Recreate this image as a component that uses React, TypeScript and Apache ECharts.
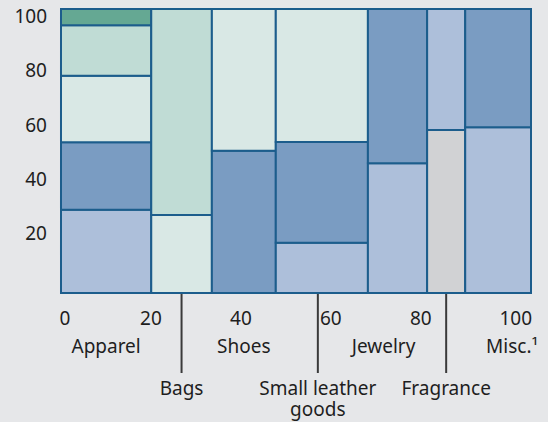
import React, { useEffect, useRef } from 'react';
import * as echarts from 'echarts';

// ---- data ----
const categories = ['Apparel', 'Bags', 'Shoes', 'Small leather\ngoods', 'Jewelry', 'Fragrance', 'Misc.¹'];
const columnWidths = [19.2, 12.9, 13.6, 19.6, 12.6, 8.1, 14.0];
// segment heights per column, bottom to top (percent)
const apparelSegments = [29.3, 23.8, 23.4, 17.8, 5.7];
const bagsSegments = [27.5, 72.5];
const shoesSegments = [50.1, 49.9];
const smallLeatherSegments = [17.7, 35.5, 46.8];
const jewelrySegments = [45.7, 54.3];
const fragranceSegments = [57.4, 42.6];
const miscSegments = [58.4, 41.6];
const segmentValues = [apparelSegments, bagsSegments, shoesSegments, smallLeatherSegments, jewelrySegments, fragranceSegments, miscSegments];
// shade key per segment
const segmentShades = [
  ['lightBlue', 'midBlue', 'paleMint', 'mint', 'green'],
  ['paleMint', 'mint'],
  ['midBlue', 'paleMint'],
  ['lightBlue', 'midBlue', 'paleMint'],
  ['lightBlue', 'midBlue'],
  ['gray', 'lightBlue'],
  ['lightBlue', 'midBlue'],
];
const xTickLabels = [0, 20, 40, 60, 80, 100];
const yTickLabels = [20, 40, 60, 80, 100];

// ---- layout / style ----
const labelRow = [0, 1, 0, 1, 0, 1, 0];
const labelNudge = [0, 0, 0, -4, -14, 0, 14];
const palette: Record<string, string> = {
  lightBlue: '#adbfda',
  midBlue: '#7a9cc2',
  paleMint: '#d9e8e5',
  mint: '#c0dcd5',
  green: '#65a893',
  gray: '#d1d2d4',
};
const FONT = '"Noto Sans", sans-serif';
const TEXT = '#1e1e1e';
const BORDER = '#1c5d8c';

export default function App() {
  const ref = useRef<HTMLDivElement>(null);
  useEffect(() => {
    if (!ref.current) return;
    const chart = echarts.init(ref.current, null, { renderer: 'svg' });

    const rectData: any[] = [];
    const labelData: any[] = [];
    let x0 = 0;
    columnWidths.forEach((w, i) => {
      let y0 = 0;
      segmentValues[i].forEach((v, j) => {
        rectData.push({ value: [x0, x0 + w, y0, y0 + v], itemStyle: { color: palette[segmentShades[i][j]] } });
        y0 += v;
      });
      labelData.push({ value: [x0, x0 + w, labelRow[i]], name: categories[i] });
      x0 += w;
    });

    const option: any = {
      animation: false,
      backgroundColor: '#e6e7e9',
      grid: { left: 61, right: 17, top: 9, bottom: 129 },
      xAxis: [
        { type: 'value', min: 0, max: 100, show: false },
        {
          type: 'value', min: 0, max: 104.5, position: 'bottom',
          axisLine: { show: false }, axisTick: { show: false }, splitLine: { show: false },
          axisLabel: {
            customValues: xTickLabels,
            margin: 15,
            color: TEXT, fontSize: 19, fontFamily: FONT,
            formatter: (v: number) => (v === 0 ? '{a|0}' : v === 100 ? '{b|100}' : '{n|' + v + '}'),
            rich: {
              a: { padding: [0, 0, 0, 8], fontSize: 19, fontFamily: FONT, color: TEXT },
              b: { padding: [0, 0, 0, 10], fontSize: 19, fontFamily: FONT, color: TEXT },
              n: { fontSize: 19, fontFamily: FONT, color: TEXT },
            },
          },
        },
      ],
      yAxis: [
        { type: 'value', min: 0, max: 100, show: false },
        {
          type: 'value', min: -2.12, max: 102.69, position: 'left',
          axisLine: { show: false }, axisTick: { show: false }, splitLine: { show: false },
          axisLabel: { customValues: yTickLabels, margin: 14, color: TEXT, fontSize: 19, fontFamily: FONT },
        },
      ],
      series: [
        {
          type: 'custom',
          xAxisIndex: 0, yAxisIndex: 0,
          encode: { x: [0, 1], y: [2, 3] },
          data: rectData,
          renderItem: (params: any, api: any) => {
            const p0 = api.coord([api.value(0), api.value(2)]);
            const p1 = api.coord([api.value(1), api.value(3)]);
            return {
              type: 'rect',
              shape: { x: p0[0], y: p1[1], width: p1[0] - p0[0], height: p0[1] - p1[1] },
              style: { fill: api.visual('color'), stroke: BORDER, lineWidth: 2 },
            };
          },
        },
        {
          type: 'custom',
          xAxisIndex: 0, yAxisIndex: 0,
          clip: false,
          silent: true,
          encode: { x: [0, 1] },
          data: labelData,
          renderItem: (params: any, api: any) => {
            const i = params.dataIndex;
            const pa = api.coord([api.value(0), 0]);
            const pb = api.coord([api.value(1), 0]);
            const cx = (pa[0] + pb[0]) / 2 + labelNudge[i];
            const bottom = pa[1];
            const row = api.value(2);
            const children: any[] = [];
            if (row === 0) {
              children.push({
                type: 'text',
                style: { x: cx, y: bottom + 53, text: categories[i], fill: TEXT, font: '19px ' + FONT, align: 'center', verticalAlign: 'middle' },
              });
            } else {
              children.push({
                type: 'line',
                shape: { x1: cx, y1: bottom + 1, x2: cx, y2: bottom + 80 },
                style: { stroke: '#3a3a3a', lineWidth: 2 },
              });
              children.push({
                type: 'text',
                style: { x: cx, y: bottom + 84, text: categories[i], fill: TEXT, font: '19px ' + FONT, align: 'center', verticalAlign: 'top', lineHeight: 21 },
              });
            }
            return { type: 'group', children };
          },
        },
      ],
    };
    chart.setOption(option);
    return () => chart.dispose();
  }, []);
  return <div ref={ref} style={{ position: 'fixed', left: 0, top: 0, width: 548, height: 422 }} />;
}
